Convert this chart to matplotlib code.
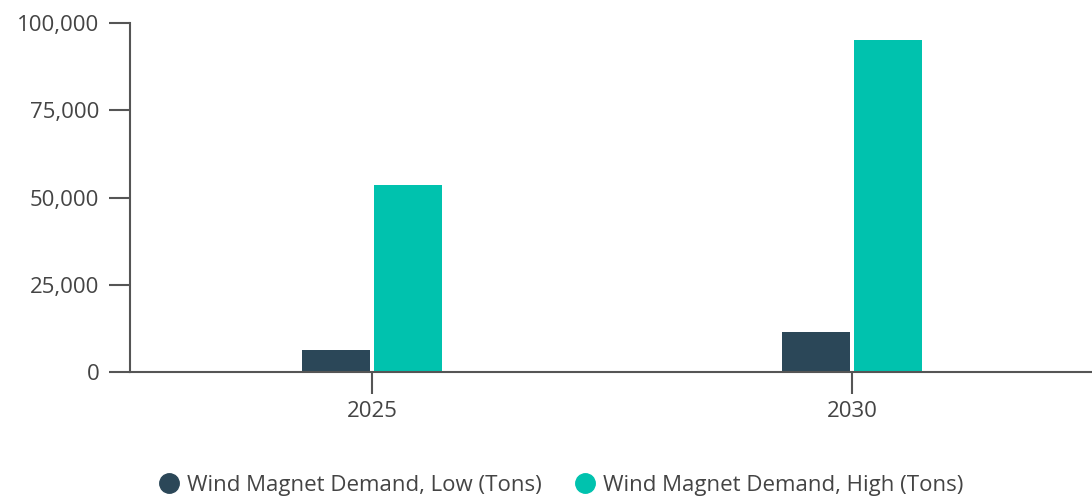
import matplotlib.pyplot as plt
from matplotlib.lines import Line2D
from matplotlib.ticker import FuncFormatter
import numpy as np

# Demand for wind magnets, in tons
years = ['2025', '2030']
demand_low = [6400, 11600]
demand_high = [53500, 95100]

low_color = '#2b4758'
high_color = '#00c2ae'
axis_color = '#555555'

plt.rcParams['font.family'] = ['Open Sans', 'DejaVu Sans']

fig = plt.figure(figsize=(10.92, 5.0), dpi=100)
ax = fig.add_axes([0.119, 0.256, 0.881, 0.6974])

x = np.arange(len(years))
w = 0.142
ax.bar(x - 0.075, demand_low, w, color=low_color, label='Wind Magnet Demand, Low (Tons)')
ax.bar(x + 0.075, demand_high, w, color=high_color, label='Wind Magnet Demand, High (Tons)')

ax.set_xlim(-0.505, 1.5)
ax.set_ylim(0, 100000)
ax.set_yticks([0, 25000, 50000, 75000, 100000])
ax.yaxis.set_major_formatter(FuncFormatter(lambda v, p: f'{int(v):,}'))
ax.set_xticks(x)
ax.set_xticklabels(years)

for s in ['top', 'right']:
    ax.spines[s].set_visible(False)
for s in ['left', 'bottom']:
    ax.spines[s].set_color(axis_color)
    ax.spines[s].set_linewidth(1.5)

ax.tick_params(axis='y', length=15, width=1.5, color=axis_color, labelsize=16,
               labelcolor='#444444', pad=7)
ax.tick_params(axis='x', length=16, width=1.5, color=axis_color, labelsize=16,
               labelcolor='#444444', pad=5)

handles = [
    Line2D([], [], marker='o', linestyle='', markersize=14, color=low_color),
    Line2D([], [], marker='o', linestyle='', markersize=14, color=high_color),
]
fig.legend(handles, ['Wind Magnet Demand, Low (Tons)', 'Wind Magnet Demand, High (Tons)'],
           loc='center', bbox_to_anchor=(0.5124, 0.03), ncol=2, frameon=False,
           fontsize=16, labelcolor='#444444', handlelength=1.2, handletextpad=0.2,
           columnspacing=1.35)

fig.savefig('out.png', dpi=100)
